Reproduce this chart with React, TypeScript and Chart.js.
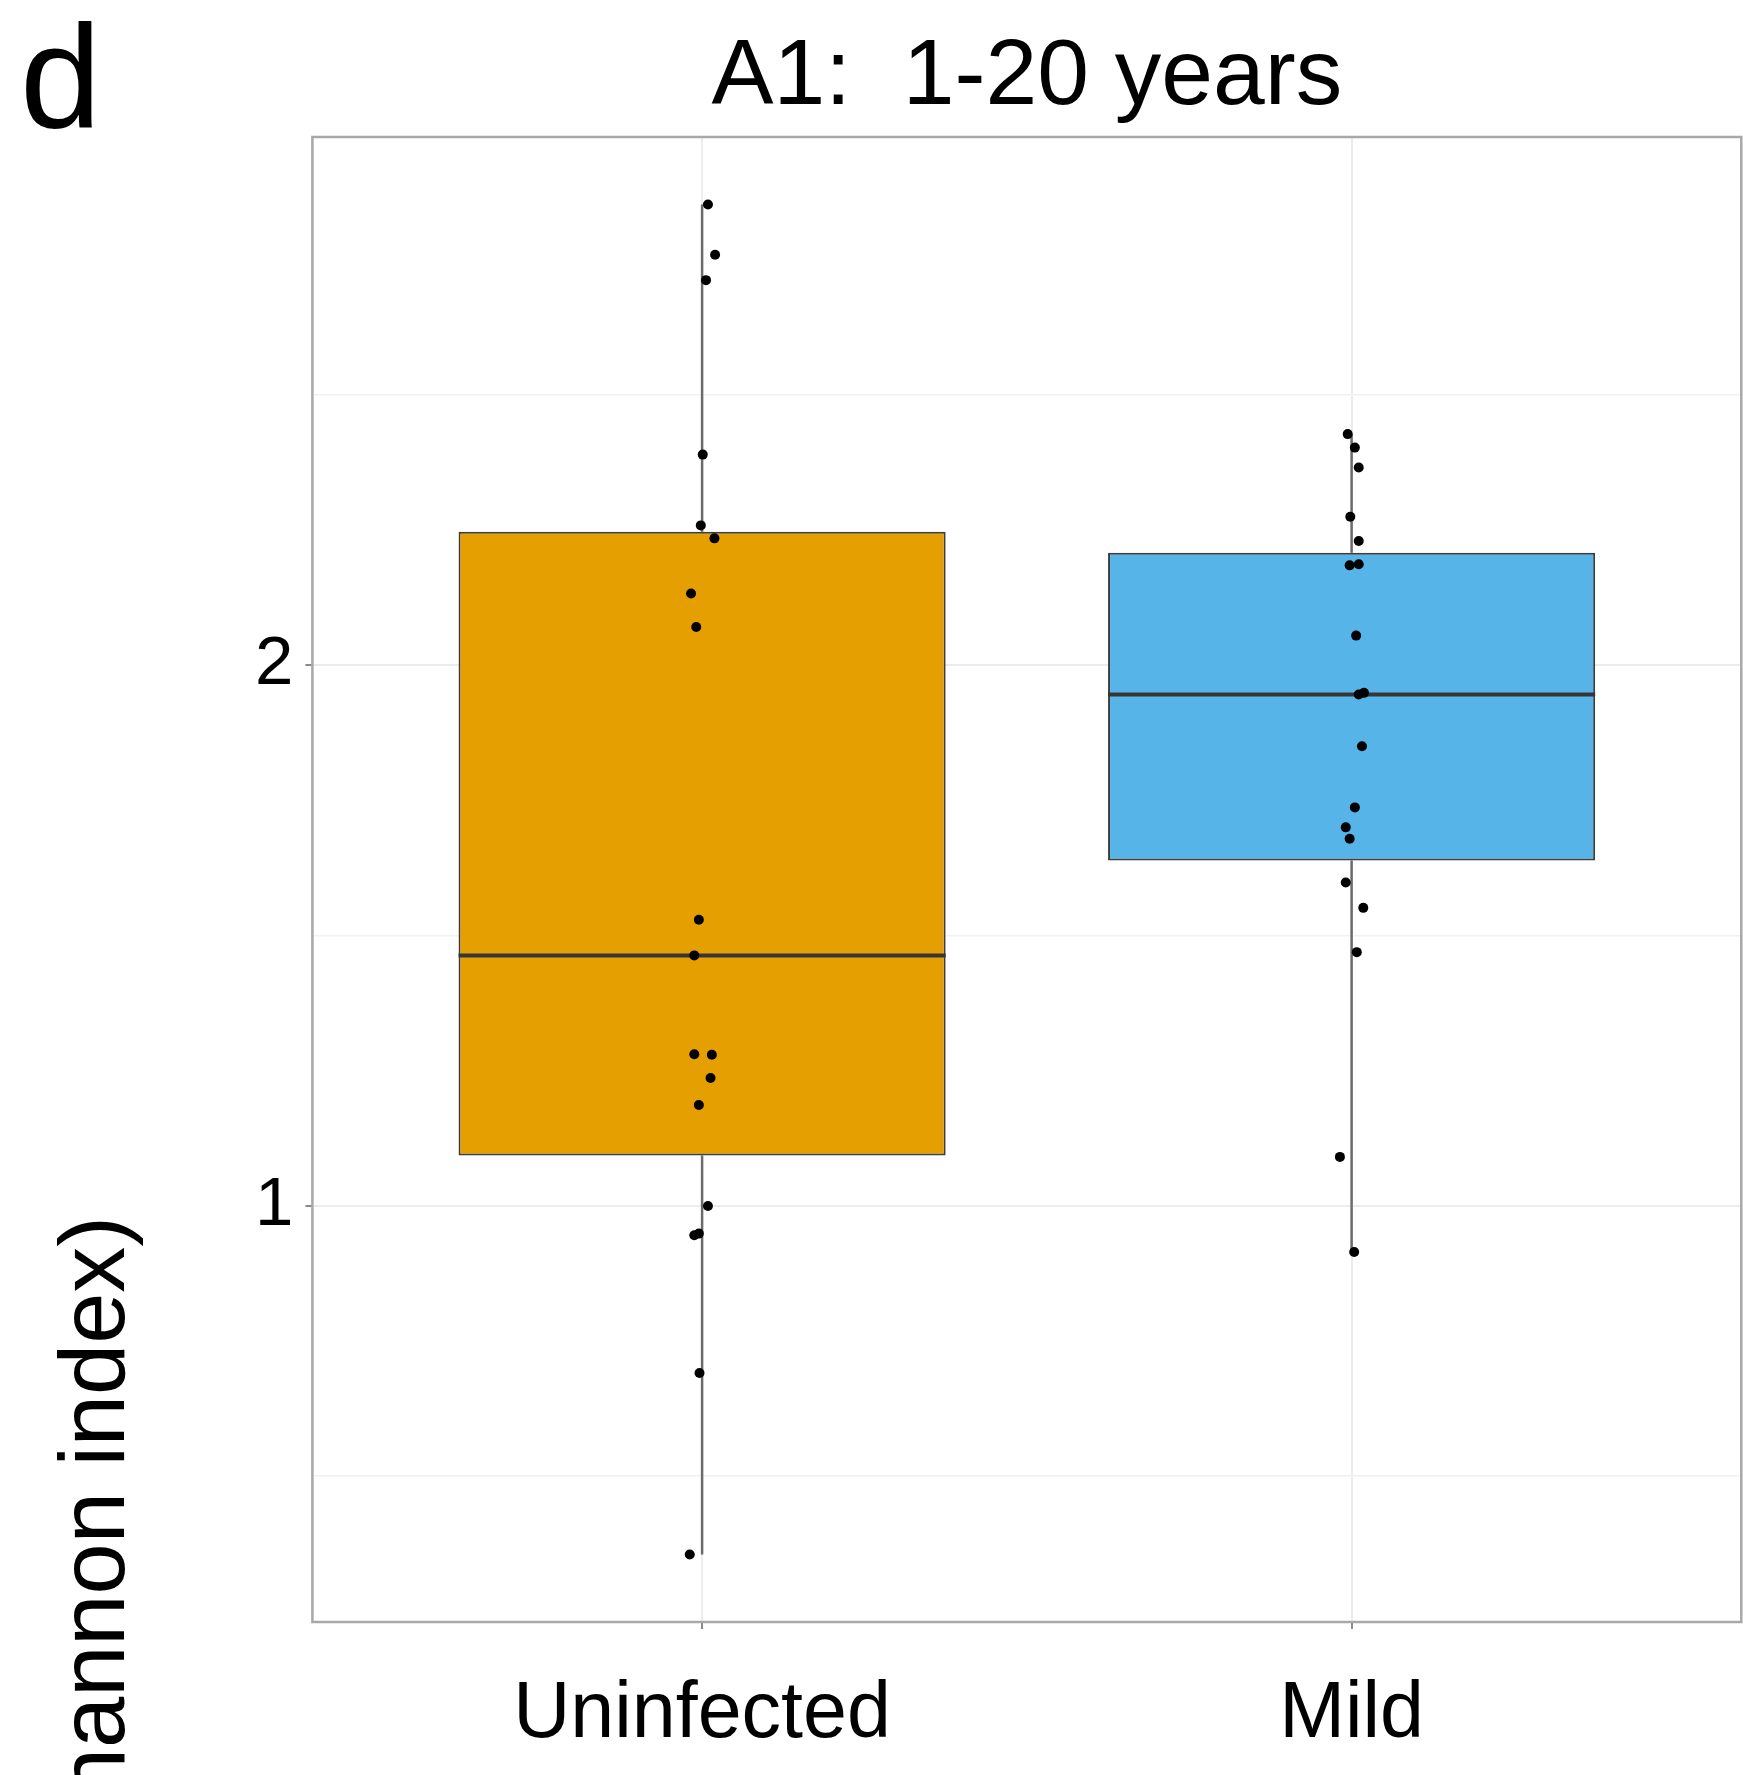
import React, { useEffect, useRef } from "react";
import { Chart, registerables } from "chart.js";

Chart.register(...registerables);

const W = 1743;
const H = 1775;
const FONT = "'Liberation Sans', Arial, Helvetica, sans-serif";

// Groups on the x axis and their fill colours
const groups = ["Uninfected", "Mild"];
const groupColors = ["#E69F00", "#56B4E9"];

// Shannon index of each sample
const uninfectedValues = [
  2.853, 2.760, 2.713, 2.390, 2.259, 2.235, 2.133, 2.071, 1.529, 1.463,
  1.280, 1.279, 1.236, 1.186, 0.999, 0.945, 0.948, 0.690, 0.354,
];
// horizontal jitter of each dot, in category units
const uninfectedJitter = [
  0.009, 0.020, 0.006, 0.001, -0.002, 0.019, -0.017, -0.009, -0.005, -0.012,
  -0.012, 0.015, 0.013, -0.005, 0.009, -0.012, -0.005, -0.004, -0.019,
];

const mildValues = [
  2.428, 2.403, 2.366, 2.275, 2.230, 2.185, 2.187, 2.055, 1.949, 1.946,
  1.850, 1.737, 1.700, 1.679, 1.598, 1.551, 1.469, 1.090, 0.914,
];
const mildJitter = [
  -0.006, 0.005, 0.011, -0.002, 0.011, -0.003, 0.011, 0.007, 0.019, 0.011,
  0.016, 0.005, -0.009, -0.003, -0.009, 0.018, 0.008, -0.018, 0.004,
];

// y ticks: major ticks carry labels, minor ticks only a grid line
const yTickValues = [0.5, 1, 1.5, 2, 2.5];
const yTickLabels = ["", "1", "", "2", ""];

const titleText = "A1:  1-20 years";
const panelTag = "d";
const yAxisTitle = "Alpha diversity (Shannon index)";

const BOX_WIDTH = 0.75;

function quantile(sorted: number[], p: number) {
  const h = (sorted.length - 1) * p;
  const lo = Math.floor(h);
  const hi = Math.ceil(h);
  return sorted[lo] + (h - lo) * (sorted[hi] - sorted[lo]);
}

function boxStats(values: number[]) {
  const s = [...values].sort((a, b) => a - b);
  const q1 = quantile(s, 0.25);
  const med = quantile(s, 0.5);
  const q3 = quantile(s, 0.75);
  const iqr = q3 - q1;
  const lo = s.find((v) => v >= q1 - 1.5 * iqr) as number;
  const hi = [...s].reverse().find((v) => v <= q3 + 1.5 * iqr) as number;
  return { q1, med, q3, lo, hi };
}

const series = [
  { values: uninfectedValues, jitter: uninfectedJitter },
  { values: mildValues, jitter: mildJitter },
];
const stats = series.map((s) => boxStats(s.values));

const allValues = [...uninfectedValues, ...mildValues];
const dataMin = Math.min(...allValues);
const dataMax = Math.max(...allValues);
const span = dataMax - dataMin;
const yMin = dataMin - 0.05 * span;
const yMax = dataMax + 0.05 * span;

const decorations = {
  id: "decorations",
  afterDraw(chart: any) {
    const { ctx, chartArea } = chart;
    const { left, right, top, bottom } = chartArea;
    ctx.save();
    // panel border
    ctx.strokeStyle = "#a8a8a8";
    ctx.lineWidth = 2.5;
    ctx.strokeRect(left, top, right - left, bottom - top);

    ctx.fillStyle = "#000";
    // title
    ctx.font = `93px ${FONT}`;
    ctx.textAlign = "center";
    ctx.textBaseline = "alphabetic";
    ctx.fillText(titleText, (left + right) / 2, 103.5);

    // panel tag
    ctx.font = `146px ${FONT}`;
    ctx.textAlign = "left";
    ctx.fillText(panelTag, 20, 126.5);

    // y-axis title
    ctx.font = `92px ${FONT}`;
    ctx.translate(124, 1216);
    ctx.rotate(-Math.PI / 2);
    ctx.textAlign = "right";
    ctx.fillText(yAxisTitle, 0, 0);
    ctx.restore();
  },
};

export default function App() {
  const ref = useRef<HTMLCanvasElement>(null);

  useEffect(() => {
    const canvas = ref.current;
    if (!canvas) return;

    const points: any[] = [];
    series.forEach((s, g) => {
      s.values.forEach((v, i) => points.push({ x: g + 1 + s.jitter[i], y: v }));
    });

    const medians: any[] = [];
    const whiskers: any[] = [];
    stats.forEach((st, g) => {
      const x = g + 1;
      medians.push({ x: x - BOX_WIDTH / 2, y: st.med }, { x: x + BOX_WIDTH / 2, y: st.med }, { x: x + 0.5, y: null });
      whiskers.push({ x, y: st.hi }, { x, y: st.q3 }, { x, y: null });
      whiskers.push({ x, y: st.q1 }, { x, y: st.lo }, { x, y: null });
    });

    const boxes = stats.map((st, g) => ({ x: g + 1, y: [st.q1, st.q3] }));

    const chart = new Chart(canvas, {
      type: "scatter",
      data: {
        datasets: [
          {
            type: "scatter",
            data: points,
            backgroundColor: "#000",
            borderWidth: 0,
            pointRadius: 5,
            order: 0,
          } as any,
          {
            type: "line",
            data: medians,
            borderColor: "#363636",
            borderWidth: 4,
            pointRadius: 0,
            spanGaps: false,
            order: 1,
          } as any,
          {
            type: "bar",
            data: boxes,
            backgroundColor: groupColors,
            borderColor: "#3d3d3d",
            borderWidth: 2,
            borderSkipped: false,
            categoryPercentage: 1,
            barPercentage: BOX_WIDTH,
            order: 2,
          } as any,
          {
            type: "line",
            data: whiskers,
            borderColor: "#6b6b6b",
            borderWidth: 2.5,
            pointRadius: 0,
            spanGaps: false,
            order: 3,
          } as any,
        ],
      },
      options: {
        animation: false,
        responsive: false,
        devicePixelRatio: 1,
        layout: { autoPadding: false, padding: { top: 137, left: 0, right: 1.7, bottom: 0 } },
        plugins: {
          legend: { display: false },
          tooltip: { enabled: false },
          title: { display: false },
        },
        scales: {
          x: {
            type: "linear",
            min: 0.4,
            max: 2.6,
            offset: false,
            afterBuildTicks: (s: any) => {
              s.ticks = groups.map((_, i) => ({ value: i + 1 }));
            },
            afterFit: (s: any) => {
              s.height = H - 1622;
              s.paddingLeft = 0;
              s.paddingRight = 0;
            },
            ticks: {
              callback: (v: any) => groups[Math.round(Number(v)) - 1] ?? "",
              font: { family: FONT, size: 79 },
              color: "#000",
              padding: 39,
              maxRotation: 0,
              autoSkip: false,
            },
            grid: {
              offset: false,
              color: "#ececec",
              lineWidth: 2,
              tickColor: "#8a8a8a",
              tickLength: 7,
              tickWidth: 2,
            },
            border: { display: false },
          },
          y: {
            type: "linear",
            min: yMin,
            max: yMax,
            afterBuildTicks: (s: any) => {
              s.ticks = yTickValues.map((v) => ({ value: v }));
            },
            afterFit: (s: any) => {
              s.width = 312.4;
            },
            ticks: {
              callback: (v: any) => {
                const i = yTickValues.indexOf(Number(v));
                return i >= 0 ? yTickLabels[i] : "";
              },
              font: { family: FONT, size: 69 },
              color: "#000",
              padding: 12,
              autoSkip: false,
            },
            grid: {
              color: (c: any) => (Number.isInteger(c.tick?.value) ? "#ececec" : "#f1f1f1"),
              lineWidth: (c: any) => (Number.isInteger(c.tick?.value) ? 2 : 1.6),
              tickColor: (c: any) => (Number.isInteger(c.tick?.value) ? "#8a8a8a" : "rgba(0,0,0,0)"),
              tickLength: 7,
              tickWidth: 2,
            },
            border: { display: false },
          },
        },
      } as any,
      plugins: [decorations],
    });

    return () => chart.destroy();
  }, []);

  return (
    <div style={{ position: "absolute", left: 0, top: 0, width: W, height: H, background: "#fff" }}>
      <canvas ref={ref} width={W} height={H} style={{ display: "block", width: W, height: H }} />
    </div>
  );
}
